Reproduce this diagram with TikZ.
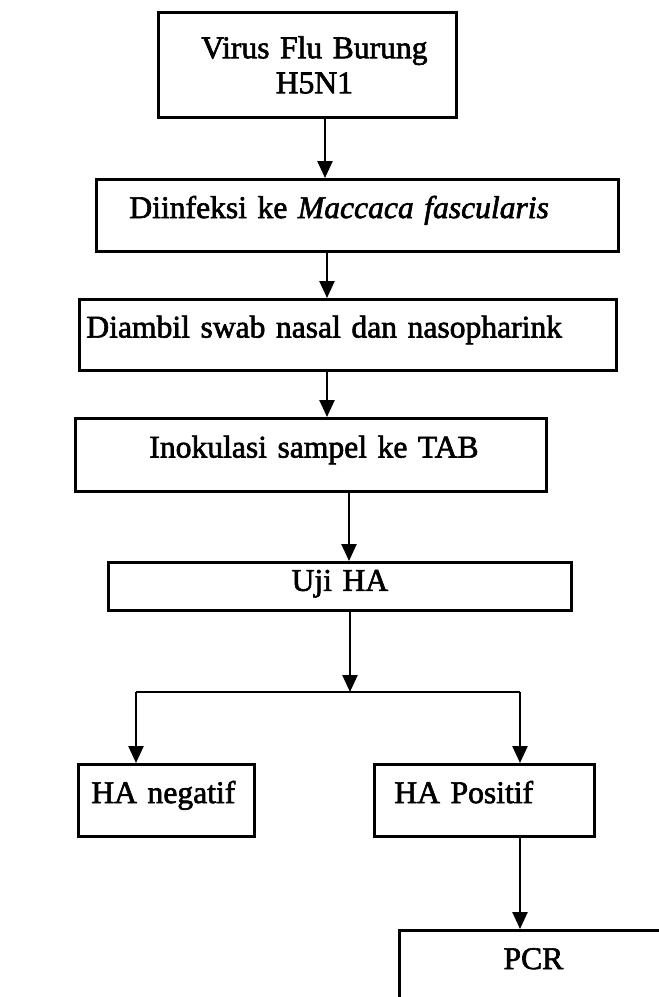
\documentclass[tikz,border=0pt]{standalone}
\usepackage{fontspec}
\setmainfont{Liberation Serif}[FakeBold=2]
\usetikzlibrary{arrows.meta}
\begin{document}
\begin{tikzpicture}[x=1pt,y=-1pt,
  box/.style={draw=black, line width=2.8pt, anchor=north west, inner xsep=0pt, inner ysep=0pt,
    align=left, text height=0.78em, text depth=0.25em,
    font=\fontsize{31.6}{37}\selectfont},
  arr/.style={draw=black, line width=2.5pt, -{Triangle[length=17pt,width=15pt]}},
  link/.style={draw=black, line width=2.5pt}]
\useasboundingbox (0,0) rectangle (659,997);
\clip (0,0) rectangle (659,997);
\fill[white] (0,0) rectangle (659,997);
% boxes
\node[box, align=center, text height=, text depth=, text width=298pt, minimum height=105pt] (b1) at (157,11)
  {\hspace*{14pt}Virus Flu Burung\\[-2pt]\hspace*{14pt}H5N1};
\node[box, text width=522pt, minimum height=72pt] (b2) at (95,178)
  {\hspace*{33pt}Diinfeksi ke \textit{Maccaca fascularis}};
\node[box, text width=537pt, minimum height=71pt] (b3) at (78,298)
  {\hspace*{7pt}Diambil swab nasal dan nasopharink};
\node[box, text width=471pt, minimum height=73pt] (b4) at (74,417)
  {\hspace*{74pt}Inokulasi sampel ke TAB};
\node[box, align=center, text width=463pt, minimum height=48pt, text height=0.886em, text depth=0pt] (b5) at (107,561)
  {Uji HA};
\node[box, text width=176pt, minimum height=72pt] (b6) at (77,763)
  {\hspace*{13pt}HA negatif};
\node[box, text width=220pt, minimum height=72pt] (b7) at (373,763)
  {\hspace*{20pt}HA Positif};
\node[box, align=center, text width=268pt, minimum height=72pt] (b8) at (398,929)
  {PCR};
% connector guides
\coordinate (c1) at (325,0);
\coordinate (c2) at (327,0);
\coordinate (c4) at (349,0);
\coordinate (jm) at (350,692);
\coordinate (jl) at (136,692);
\coordinate (jr) at (520,692);
% connectors
\draw[arr] (c1 |- b1.south) -- (c1 |- b2.north);
\draw[arr] (c2 |- b2.south) -- (c2 |- b3.north);
\draw[arr] (c2 |- b3.south) -- (c2 |- b4.north);
\draw[arr] (c4 |- b4.south) -- (c4 |- b5.north);
\draw[arr] (jm |- b5.south) -- (jm);
\draw[link] (jl) -- (jr);
\draw[arr] (jl) -- (jl |- b6.north);
\draw[arr] (jr) -- (jr |- b7.north);
\draw[arr] (jr |- b7.south) -- (jr |- b8.north);
\end{tikzpicture}
\end{document}
